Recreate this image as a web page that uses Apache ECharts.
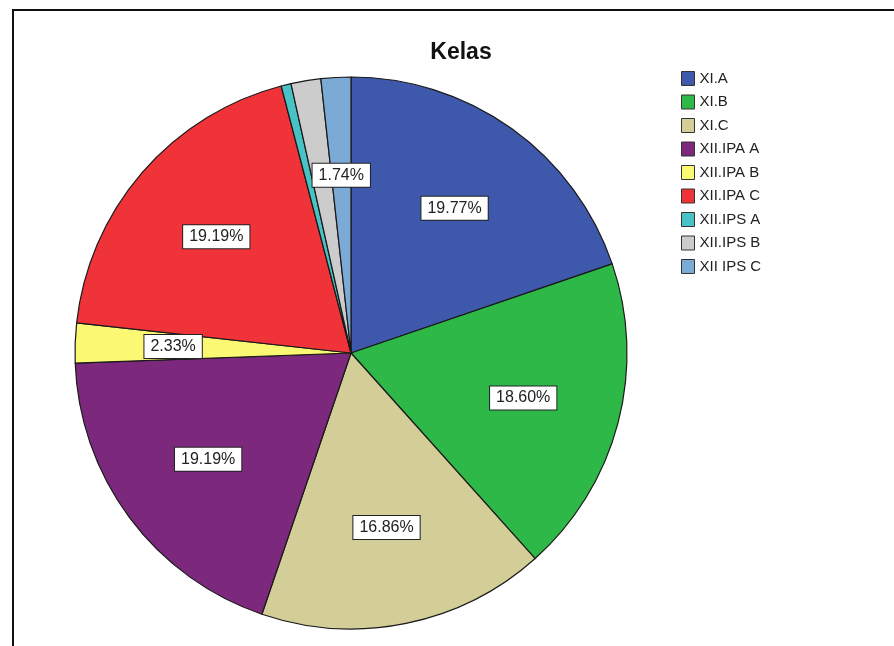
<!DOCTYPE html>
<html>
<head>
<meta charset="utf-8">
<script src="https://cdn.jsdelivr.net/npm/echarts@6/dist/echarts.min.js"></script>
<style>
html,body{margin:0;padding:0;background:#fff;}
#c{width:894px;height:646px;}
</style>
</head>
<body>
<div id="c"></div>
<script>
const categories = ['XI.A','XI.B','XI.C','XII.IPA A','XII.IPA B','XII.IPA C','XII.IPS A','XII.IPS B','XII IPS C'];
const counts = [34, 32, 29, 33, 4, 33, 1, 3, 3];
const showLabel = [true, true, true, true, true, true, false, false, true];
const colors = ['#3E58AC','#2EB848','#D3CE97','#7C287D','#FBF873','#EF3338','#48C2C5','#CCCCCC','#7AAAD5'];
const titleText = 'Kelas';

const total = counts.reduce((a, b) => a + b, 0);
const font = 'Arial, "Liberation Sans", sans-serif';
const center = [351, 353];
const R = 276;

const chart = echarts.init(document.getElementById('c'));
chart.setOption({
  animation: false,
  backgroundColor: '#fff',
  color: colors,
  title: {
    text: titleText, left: 456, top: 36, textAlign: 'center',
    textStyle: { fontFamily: font, fontWeight: 'bold', fontSize: 23, color: '#111' }
  },
  legend: {
    data: categories, orient: 'vertical', left: 681, top: 71, padding: 0,
    itemWidth: 13, itemHeight: 14, itemGap: 8.5,
    icon: 'rect',
    itemStyle: { borderColor: '#333', borderWidth: 1 },
    textStyle: { fontFamily: font, fontSize: 15, lineHeight: 14, color: '#222' }
  },
  graphic: [{
    type: 'rect', silent: true, z: 100,
    shape: { x: 13, y: 10, width: 900, height: 700 },
    style: { fill: 'none', stroke: '#111', lineWidth: 2 }
  }],
  series: [{
    type: 'pie', center: center, radius: [0, R], startAngle: 90, clockwise: true,
    minAngle: 0, avoidLabelOverlap: false, silent: true,
    itemStyle: { borderColor: '#1a1a1a', borderWidth: 1.2 },
    label: { show: false }, labelLine: { show: false },
    data: categories.map((n, i) => ({ name: n, value: counts[i] }))
  }, {
    type: 'pie', center: center, radius: [0, 350], startAngle: 90, clockwise: true,
    minAngle: 0, avoidLabelOverlap: false, silent: true, z: 5,
    itemStyle: { color: 'rgba(0,0,0,0)', borderWidth: 0 },
    labelLine: { show: false },
    label: {
      position: 'inside', fontFamily: font, fontSize: 16, color: '#222',
      backgroundColor: '#fff', borderColor: '#222', borderWidth: 1,
      padding: [4, 6, 3, 6],
      formatter: p => (counts[p.dataIndex] / total * 100).toFixed(2) + '%'
    },
    data: categories.map((n, i) => ({ name: n + '_lbl', value: counts[i], label: { show: showLabel[i] } }))
  }]
});
</script>
</body>
</html>
